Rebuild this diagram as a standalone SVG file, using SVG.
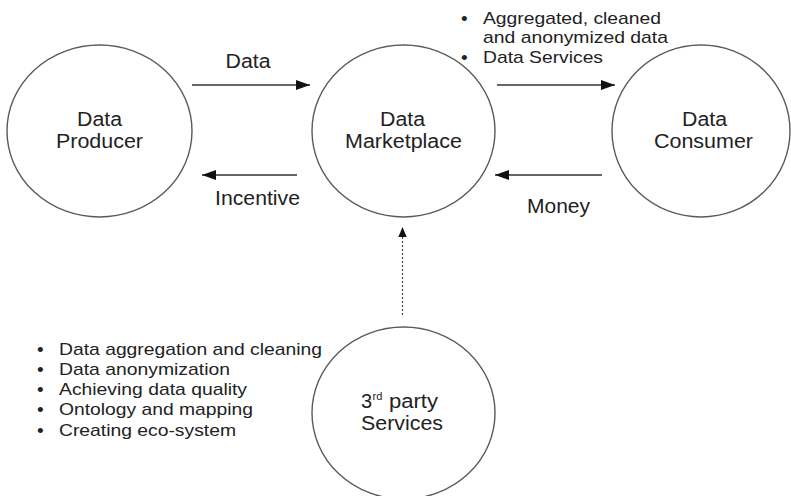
<svg xmlns="http://www.w3.org/2000/svg" width="791" height="496" viewBox="0 0 791 496">
  <style>
    .node { fill: #ffffff; stroke: #5a5a5a; stroke-width: 1.4; }
    .label { font-family: "Liberation Sans", Arial, sans-serif; font-size: 20px; fill: #222; text-anchor: middle; }
    .bullet { font-family: "Liberation Sans", Arial, sans-serif; font-size: 17px; fill: #222; }
    .dot { font-family: "Liberation Sans", Arial, sans-serif; font-size: 19px; fill: #222; }
    .edge { stroke: #333; stroke-width: 1.5; fill: none; }
    .dotted { stroke: #444; stroke-width: 1.2; stroke-dasharray: 2 2; fill: none; }
  </style>
  <defs>
    <marker id="arrow" viewBox="0 0 14 10" refX="14" refY="5" markerWidth="14" markerHeight="10" markerUnits="userSpaceOnUse" orient="auto">
      <path d="M0,0 L14,5 L0,10 Z" fill="#111"/>
    </marker>
    <marker id="arrowSmall" viewBox="0 0 12 10" refX="12" refY="5" markerWidth="10" markerHeight="12" markerUnits="userSpaceOnUse" orient="auto">
      <path d="M0,0 L12,5 L0,10 Z" fill="#111"/>
    </marker>
  </defs>
  <rect width="791" height="496" fill="#ffffff"/>

  <g id="connectors">
    <line class="edge" x1="192" y1="85" x2="310" y2="85" marker-end="url(#arrow)"/>
    <line class="edge" x1="297" y1="175" x2="202" y2="175" marker-end="url(#arrow)"/>
    <line class="edge" x1="497" y1="85" x2="615" y2="85" marker-end="url(#arrow)"/>
    <line class="edge" x1="602" y1="175" x2="495" y2="175" marker-end="url(#arrow)"/>
    <line class="dotted" x1="402.5" y1="315" x2="402.5" y2="227" marker-end="url(#arrowSmall)"/>
    <text class="label" x="248" y="68" textLength="45" lengthAdjust="spacingAndGlyphs">Data</text>
    <text class="label" x="257.5" y="205" textLength="85" lengthAdjust="spacingAndGlyphs">Incentive</text>
    <text class="label" x="558.5" y="213" textLength="63" lengthAdjust="spacingAndGlyphs">Money</text>
  </g>

  <g id="producer">
    <ellipse class="node" cx="99.5" cy="131" rx="92.5" ry="86"/>
    <text class="label" x="99.5" y="126" textLength="45" lengthAdjust="spacingAndGlyphs">Data</text>
    <text class="label" x="99.5" y="148" textLength="87" lengthAdjust="spacingAndGlyphs">Producer</text>
  </g>

  <g id="marketplace">
    <ellipse class="node" cx="403.5" cy="131" rx="91.5" ry="86"/>
    <text class="label" x="402.5" y="126" textLength="45" lengthAdjust="spacingAndGlyphs">Data</text>
    <text class="label" x="403.5" y="148" textLength="117" lengthAdjust="spacingAndGlyphs">Marketplace</text>
  </g>

  <g id="consumer">
    <ellipse class="node" cx="701" cy="131" rx="89" ry="86"/>
    <text class="label" x="704.5" y="126" textLength="45" lengthAdjust="spacingAndGlyphs">Data</text>
    <text class="label" x="703.5" y="148" textLength="99" lengthAdjust="spacingAndGlyphs">Consumer</text>
  </g>

  <g id="third-party">
    <ellipse class="node" cx="403.5" cy="413" rx="91.5" ry="86"/>
    <text class="label" x="361" y="408" style="text-anchor:start">3<tspan font-size="11" x="372.5" y="400">rd</tspan></text>
    <text class="label" x="389" y="408" style="text-anchor:start" textLength="49" lengthAdjust="spacingAndGlyphs">party</text>
    <text class="label" x="402" y="430" textLength="82" lengthAdjust="spacingAndGlyphs">Services</text>
  </g>

  <g id="offer-list">
    <text class="dot" x="461" y="25">•</text>
    <text class="bullet" x="483" y="24" textLength="178" lengthAdjust="spacingAndGlyphs">Aggregated, cleaned</text>
    <text class="bullet" x="483" y="43" textLength="185" lengthAdjust="spacingAndGlyphs">and anonymized data</text>
    <text class="dot" x="461" y="64">•</text>
    <text class="bullet" x="483" y="63" textLength="120" lengthAdjust="spacingAndGlyphs">Data Services</text>
  </g>

  <g id="service-list">
    <text class="dot" x="37" y="356">•</text>
    <text class="bullet" x="59" y="355" textLength="263" lengthAdjust="spacingAndGlyphs">Data aggregation and cleaning</text>
    <text class="dot" x="37" y="376">•</text>
    <text class="bullet" x="59" y="375" textLength="171" lengthAdjust="spacingAndGlyphs">Data anonymization</text>
    <text class="dot" x="37" y="396">•</text>
    <text class="bullet" x="59" y="395" textLength="188" lengthAdjust="spacingAndGlyphs">Achieving data quality</text>
    <text class="dot" x="37" y="416">•</text>
    <text class="bullet" x="59" y="415" textLength="194" lengthAdjust="spacingAndGlyphs">Ontology and mapping</text>
    <text class="dot" x="37" y="437">•</text>
    <text class="bullet" x="59" y="436" textLength="177" lengthAdjust="spacingAndGlyphs">Creating eco-system</text>
  </g>
</svg>
